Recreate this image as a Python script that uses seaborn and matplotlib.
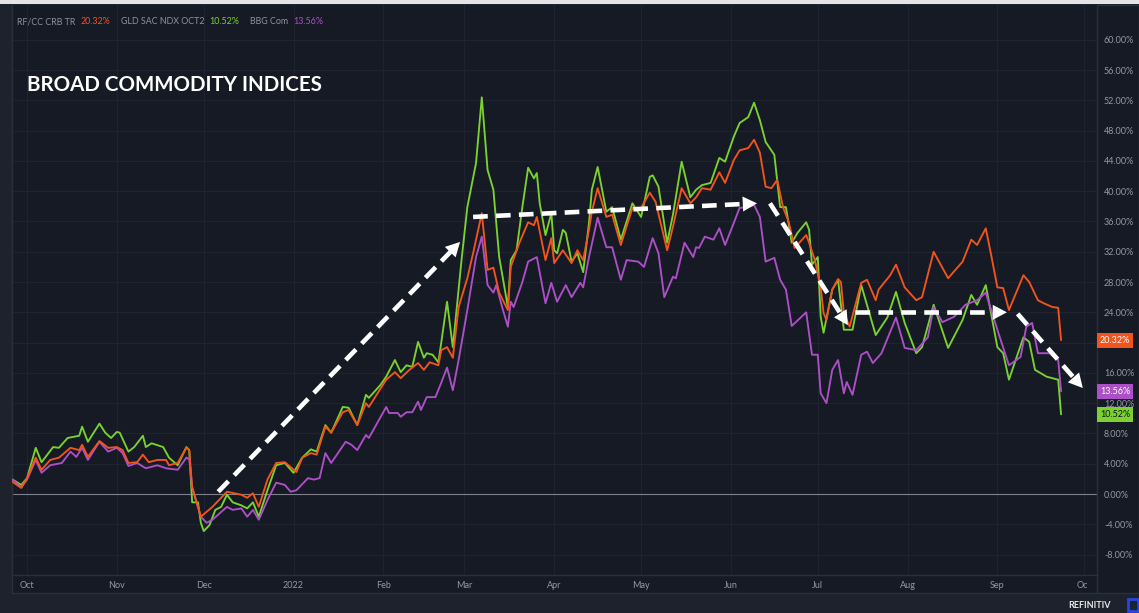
import numpy as np
import pandas as pd
import matplotlib
matplotlib.use('Agg')
import matplotlib.pyplot as plt
import matplotlib.dates as mdates
from matplotlib.transforms import blended_transform_factory
from matplotlib.patches import Rectangle
from matplotlib.lines import Line2D
import seaborn as sns

# ---------------- data (days since 1 Oct 2021, % change) ----------------
BASE = pd.Timestamp('2021-10-01')

crb_day = [-5, -2, 0, 3, 5, 8, 11, 15, 18, 19, 21, 25, 28, 31, 33, 35, 38, 40, 42, 45,
           48, 49, 52, 55, 56, 57, 60, 64, 69, 74, 76, 78, 80, 83, 86, 89, 93, 95, 98, 100,
           103, 105, 109, 111, 114, 117, 118, 124, 127, 129, 132, 135, 137, 139, 142, 143, 145, 147, 149, 152,
           154, 157, 159, 161, 163, 166, 167, 170, 173, 175, 176, 179, 181, 182, 185, 188, 190, 192, 194, 195,
           197, 200, 202, 205, 209, 212, 215, 217, 221, 223, 226, 229, 231, 233, 236, 239, 241, 244, 246, 249,
           251, 253, 255, 257, 259, 261, 263, 265, 269, 270, 272, 274, 275, 276, 278, 280, 281, 282, 284, 288,
           290, 293, 294, 298, 300, 303, 307, 309, 313, 318, 323, 326, 328, 331, 333, 335, 337, 339, 344, 346,
           349, 351, 354, 356, 357]
crb_val = [1.6, 0.8, 2.1, 4.8, 3.2, 4.5, 4.8, 6.1, 5.8, 6.5, 4.9, 7.0, 6.1, 6.2, 5.8, 4.1, 4.2, 5.2, 4.2, 4.5,
           4.5, 3.8, 4.1, 6.1, 5.8, 0.9, -3.0, -1.7, 0.3, -0.1, -0.5, 0.1, -1.7, 1.9, 4.1, 4.2, 2.9, 4.8, 5.4, 5.2,
           8.9, 8.1, 10.8, 11.1, 9.1, 12.0, 11.5, 15.1, 16.1, 15.3, 16.4, 17.3, 16.4, 17.4, 17.0, 19.0, 19.4, 18.0, 24.7, 28.5,
           31.8, 37.1, 29.6, 29.9, 26.6, 24.3, 30.0, 33.2, 35.9, 35.5, 36.6, 30.9, 33.8, 30.5, 32.2, 30.5, 32.2, 30.9, 34.9, 37.3,
           40.4, 36.6, 36.9, 32.9, 37.8, 37.8, 39.8, 38.6, 32.2, 35.3, 40.4, 38.4, 39.2, 40.4, 40.2, 42.5, 41.1, 44.1, 45.4, 45.7,
           46.8, 45.1, 40.6, 40.4, 41.5, 37.9, 35.9, 32.5, 34.2, 33.2, 30.9, 27.3, 23.9, 23.0, 27.0, 28.4, 28.0, 23.9, 22.1, 27.9,
           28.3, 25.6, 27.0, 28.9, 30.3, 27.3, 25.6, 26.0, 32.0, 28.5, 30.7, 33.6, 32.9, 35.1, 31.3, 27.3, 27.2, 24.3, 28.9, 28.0,
           25.6, 25.2, 24.7, 24.6, 20.32]

gld_day = [-5, -2, 0, 3, 5, 9, 11, 14, 18, 19, 21, 25, 27, 29, 31, 32, 35, 37, 40, 41,
           43, 47, 49, 52, 55, 56, 57, 59, 60, 61, 63, 65, 67, 69, 71, 74, 76, 78, 80, 83,
           86, 89, 92, 95, 98, 100, 103, 105, 109, 111, 114, 117, 118, 122, 124, 127, 129, 131, 133, 135,
           137, 138, 140, 142, 143, 145, 147, 150, 152, 155, 157, 159, 161, 163, 166, 167, 169, 171, 173, 175,
           176, 177, 179, 181, 182, 183, 185, 186, 188, 190, 192, 194, 195, 197, 200, 202, 205, 209, 212, 215,
           216, 218, 221, 223, 226, 229, 231, 233, 236, 239, 241, 244, 246, 249, 251, 253, 255, 258, 260, 262,
           264, 266, 269, 270, 271, 273, 274, 275, 278, 280, 282, 285, 288, 293, 297, 300, 303, 307, 309, 313,
           318, 323, 326, 328, 331, 335, 337, 339, 344, 346, 348, 352, 356, 357]
gld_val = [1.9, 1.2, 2.1, 6.1, 4.2, 6.2, 6.1, 7.4, 7.7, 8.9, 6.9, 9.3, 8.1, 7.4, 8.2, 8.1, 5.6, 6.2, 7.7, 6.2,
           6.7, 6.2, 4.8, 3.8, 6.2, 5.8, -1.1, -1.1, -3.8, -4.9, -4.1, -2.1, -1.7, -0.1, -1.1, -1.5, -1.9, -1.1, -3.0, 0.5,
           3.8, 4.1, 2.8, 4.8, 5.9, 5.6, 9.1, 8.1, 11.5, 11.4, 9.1, 13.1, 12.7, 14.4, 15.5, 17.7, 16.1, 17.0, 16.8, 20.1,
           18.0, 18.6, 18.4, 17.4, 20.0, 25.4, 19.4, 30.9, 37.9, 43.7, 52.4, 42.8, 40.2, 31.3, 24.7, 30.9, 32.2, 37.9, 43.1, 41.7,
           42.4, 38.4, 34.2, 37.1, 32.2, 31.8, 34.9, 34.5, 30.7, 31.8, 29.3, 35.8, 40.2, 43.2, 37.3, 37.9, 33.6, 38.4, 36.6, 41.9,
           42.1, 40.6, 33.2, 36.9, 43.9, 39.2, 40.2, 40.8, 41.1, 44.4, 43.9, 47.2, 49.0, 49.8, 51.7, 49.4, 46.5, 44.8, 37.9, 37.9,
           33.2, 34.5, 35.9, 34.9, 30.3, 31.3, 23.4, 21.3, 27.0, 28.3, 21.7, 21.7, 27.6, 21.0, 23.3, 26.7, 22.6, 18.6, 19.4, 25.0,
           19.3, 23.0, 26.3, 25.0, 27.6, 19.4, 18.6, 15.1, 20.7, 20.1, 16.4, 15.5, 15.1, 10.52]

bbg_day = [-5, -2, 0, 3, 5, 8, 12, 15, 17, 19, 21, 25, 28, 31, 33, 35, 38, 41, 45, 48,
           52, 55, 56, 57, 60, 62, 64, 69, 71, 74, 76, 78, 80, 83, 86, 89, 91, 93, 97, 99,
           101, 103, 105, 110, 112, 114, 117, 118, 124, 125, 128, 129, 131, 133, 135, 136, 138, 141, 143, 145,
           147, 149, 152, 155, 157, 159, 161, 162, 164, 166, 167, 168, 171, 173, 176, 179, 181, 183, 186, 188,
           191, 192, 194, 197, 200, 202, 205, 207, 211, 213, 216, 218, 220, 223, 224, 227, 230, 231, 232, 234,
           237, 239, 241, 244, 246, 249, 251, 253, 255, 258, 260, 262, 264, 269, 271, 273, 274, 276, 278, 280,
           282, 283, 285, 288, 290, 292, 295, 300, 303, 307, 311, 313, 316, 320, 324, 328, 331, 335, 339, 343,
           345, 347, 349, 353, 356, 357]
bbg_val = [1.9, 0.9, 1.9, 4.5, 2.8, 3.8, 4.1, 5.6, 4.9, 6.1, 4.5, 6.9, 5.6, 6.1, 5.4, 3.7, 4.1, 3.4, 3.8, 3.4,
           3.2, 4.8, 4.6, 0.9, -3.0, -3.8, -3.4, -1.7, -2.1, -1.9, -3.0, -2.1, -3.4, -0.8, 1.5, 1.2, 0.3, 0.5, 2.1, 1.9,
           2.1, 5.4, 4.1, 6.9, 6.5, 5.8, 7.8, 7.4, 11.5, 10.7, 10.7, 10.2, 10.8, 10.8, 12.2, 11.1, 12.8, 12.8, 14.7, 16.7,
           13.7, 17.7, 24.3, 31.3, 34.0, 27.6, 26.6, 27.6, 24.7, 22.1, 25.4, 24.7, 28.0, 30.7, 31.3, 25.2, 27.9, 25.4, 27.6, 26.0,
           27.9, 27.3, 31.3, 36.5, 32.6, 32.6, 28.3, 30.9, 30.7, 30.0, 33.8, 31.8, 26.0, 28.7, 28.5, 33.2, 31.3, 32.6, 32.5, 34.0,
           33.6, 35.1, 32.9, 35.8, 37.8, 37.9, 38.2, 36.6, 30.7, 31.2, 28.3, 27.0, 22.2, 24.0, 18.4, 18.4, 13.3, 12.0, 16.4, 17.7,
           13.3, 14.8, 13.1, 18.4, 18.8, 17.3, 18.6, 23.3, 19.3, 19.0, 20.7, 24.7, 22.7, 23.4, 25.0, 25.6, 26.6, 21.7, 17.0, 18.1,
           22.1, 22.6, 18.6, 18.6, 17.7, 13.56]

series_names = ['RF/CC CRB TR', 'GLD SAC NDX OCT2', 'BBG Com']
series_colors = ['#f2541b', '#7ad12f', '#ad4fc6']
badge_text_colors = ['#ffffff', '#131722', '#ffffff']

# annotation arrows (days since 1 Oct 2021, %)
arrow_start_day = [66, 154, 256.5, 286, 342]
arrow_start_val = [0.3, 36.6, 38.4, 24.0, 23.8]
arrow_end_day = [149.5, 252, 283.4, 338.3, 364.5]
arrow_end_val = [33.3, 38.4, 22.3, 24.0, 14.0]

title = 'BROAD COMMODITY INDICES'

# ---------------- build table ----------------
frames = []
for name, days, vals in zip(series_names, [crb_day, gld_day, bbg_day], [crb_val, gld_val, bbg_val]):
    frames.append(pd.DataFrame({'date': BASE + pd.to_timedelta(days, unit='D'),
                                'value': vals, 'series': name}))
df = pd.concat(frames, ignore_index=True)
last_vals = [crb_val[-1], gld_val[-1], bbg_val[-1]]

# ---------------- style ----------------
BG = '#161a25'
OUTER = '#1e222d'
GRID = '#1f2330'
SEP = '#2b2f3a'
TXT = '#9598a1'

sns.set_theme(style='darkgrid', rc={'axes.facecolor': BG, 'figure.facecolor': OUTER,
                                    'grid.color': GRID, 'axes.edgecolor': SEP})
plt.rcParams['font.family'] = ['Lato', 'DejaVu Sans']

W, H = 1139, 613
fig = plt.figure(figsize=(W / 100, H / 100), dpi=100)
fig.patch.set_facecolor(OUTER)

def fx(px):
    return px / W

def fy(py):
    return 1 - py / H

# light strip at the very top and the chart box (behind the axes)
fig.patches.append(Rectangle((0, fy(4)), 1, fy(0) - fy(4), transform=fig.transFigure,
                             fc='#e4e4e6', ec='none', zorder=-2))
fig.patches.append(Rectangle((fx(12), fy(593)), fx(1139) - fx(12), fy(5) - fy(593),
                             transform=fig.transFigure, fc=BG, ec=SEP, lw=1.0, zorder=-2))

ax = fig.add_axes([fx(12), fy(575), fx(1097) - fx(12), fy(5) - fy(575)])
ax.set_facecolor(BG)
ax.set_zorder(1)

hue_order = ['GLD SAC NDX OCT2', 'BBG Com', 'RF/CC CRB TR']
sns.lineplot(data=df, x='date', y='value', hue='series', hue_order=hue_order,
             palette=dict(zip(series_names, series_colors)), ax=ax, legend=False,
             linewidth=1.35, estimator=None, sort=False, zorder=3)

ax.set_xlim(BASE - pd.Timedelta(days=5.2), BASE + pd.Timedelta(days=369.4))
ax.set_ylim(-10.7, 64.6)

# zero line
ax.axhline(0, color='#7d808a', lw=0.8, zorder=2)

# x ticks: month starts
months = pd.date_range('2021-10-01', '2022-10-01', freq='MS')
mlabels = [str(m.year) if m.month == 1 else m.strftime('%b') for m in months]
ax.set_xticks(months)
ax.set_xticklabels(mlabels)
ax.tick_params(axis='x', length=0, pad=4.5, labelsize=6.5, labelcolor=TXT)

# y ticks on the right
yt = np.arange(-8, 61, 4)
ax.yaxis.tick_right()
ax.set_yticks(yt)
ylabels = []
for t in yt:
    if min(abs(t - v) for v in last_vals) < 1.0:
        ylabels.append('')
    else:
        ylabels.append(f'{t:.2f}%')
ax.set_yticklabels(ylabels)
ax.tick_params(axis='y', length=0, pad=5, labelsize=6.5, labelcolor=TXT)
ax.set_xlabel('')
ax.set_ylabel('')
ax.grid(True, color=GRID, lw=0.8)

for s in ['left', 'bottom', 'right']:
    ax.spines[s].set_visible(True)
    ax.spines[s].set_color(SEP)
    ax.spines[s].set_linewidth(1.0)
ax.spines['top'].set_visible(False)

# mask so the last "Oct" label is cut at the price-scale edge, as in the original
fig.patches.append(Rectangle((fx(1087), fy(592)), fx(1096.5) - fx(1087), fy(576) - fy(592),
                             transform=fig.transFigure, fc=BG, ec='none', zorder=3))
# right separator through the date strip
fig.add_artist(Line2D([fx(1097), fx(1097)], [fy(593), fy(575)], color=SEP, lw=1.0,
                      transform=fig.transFigure, zorder=4))

# ---------------- arrows ----------------
for sd, sv, ed, ev in zip(arrow_start_day, arrow_start_val, arrow_end_day, arrow_end_val):
    x0 = mdates.date2num(BASE + pd.Timedelta(days=sd))
    x1 = mdates.date2num(BASE + pd.Timedelta(days=ed))
    p0 = ax.transData.transform((x0, sv))
    p1 = ax.transData.transform((x1, ev))
    L = np.hypot(*(p1 - p0))
    f_line = 1 - 9.0 / L
    f_head = 1 - 25.0 / L
    xm, ym = x0 + f_line * (x1 - x0), sv + f_line * (ev - sv)
    xh, yh = x0 + f_head * (x1 - x0), sv + f_head * (ev - sv)
    ax.plot([x0, xm], [sv, ym], color='white', lw=3.3, ls=(0, (3.2, 1.8)),
            dash_capstyle='butt', solid_capstyle='butt', zorder=6)
    ax.annotate('', xy=(x1, ev), xytext=(xh, yh),
                arrowprops=dict(arrowstyle='-|>,head_length=0.85,head_width=0.45',
                                fc='white', ec='white', lw=0, shrinkA=0, shrinkB=0,
                                mutation_scale=12), zorder=7)

# ---------------- badges on price scale ----------------
btrans = blended_transform_factory(fig.transFigure, ax.transData)
for v, c, tc in zip(last_vals, series_colors, badge_text_colors):
    ax.text(fx(1100), v, f'{v:.2f}%', transform=btrans, ha='left', va='center',
            fontsize=6.5, color=tc, clip_on=False, zorder=8,
            bbox=dict(boxstyle='square,pad=0.32', fc=c, ec='none'))

# ---------------- legend line (placed piece after piece) ----------------
renderer = fig.canvas.get_renderer()
cur = 17.0
for i, (name, v, c) in enumerate(zip(series_names, last_vals, series_colors)):
    for txt, col, gap in [(name, '#8e919a', 5.5), (f'{v:.2f}%', c, 10.0)]:
        t = fig.text(fx(cur), fy(22), txt, fontsize=6.4, color=col, va='center', ha='left', zorder=5)
        wpx = t.get_window_extent(renderer=renderer).width
        cur += wpx + gap

# ---------------- title ----------------
fig.text(fx(27), fy(85), title, fontsize=14.8, fontweight='bold', color='white',
         va='center', ha='left', zorder=5)

# ---------------- footer brand ----------------
fig.text(fx(1068), fy(606), 'REFINITIV', fontsize=6.5, fontweight='bold', color='#e8e8ea',
         va='center', ha='left')
fig.patches.append(Rectangle((fx(1128), fy(611)), fx(1138) - fx(1128), fy(599) - fy(611),
                             transform=fig.transFigure, fc='none', ec='#2447e8', lw=2.0, zorder=2))

fig.savefig('out.png', dpi=100, facecolor=fig.get_facecolor())
